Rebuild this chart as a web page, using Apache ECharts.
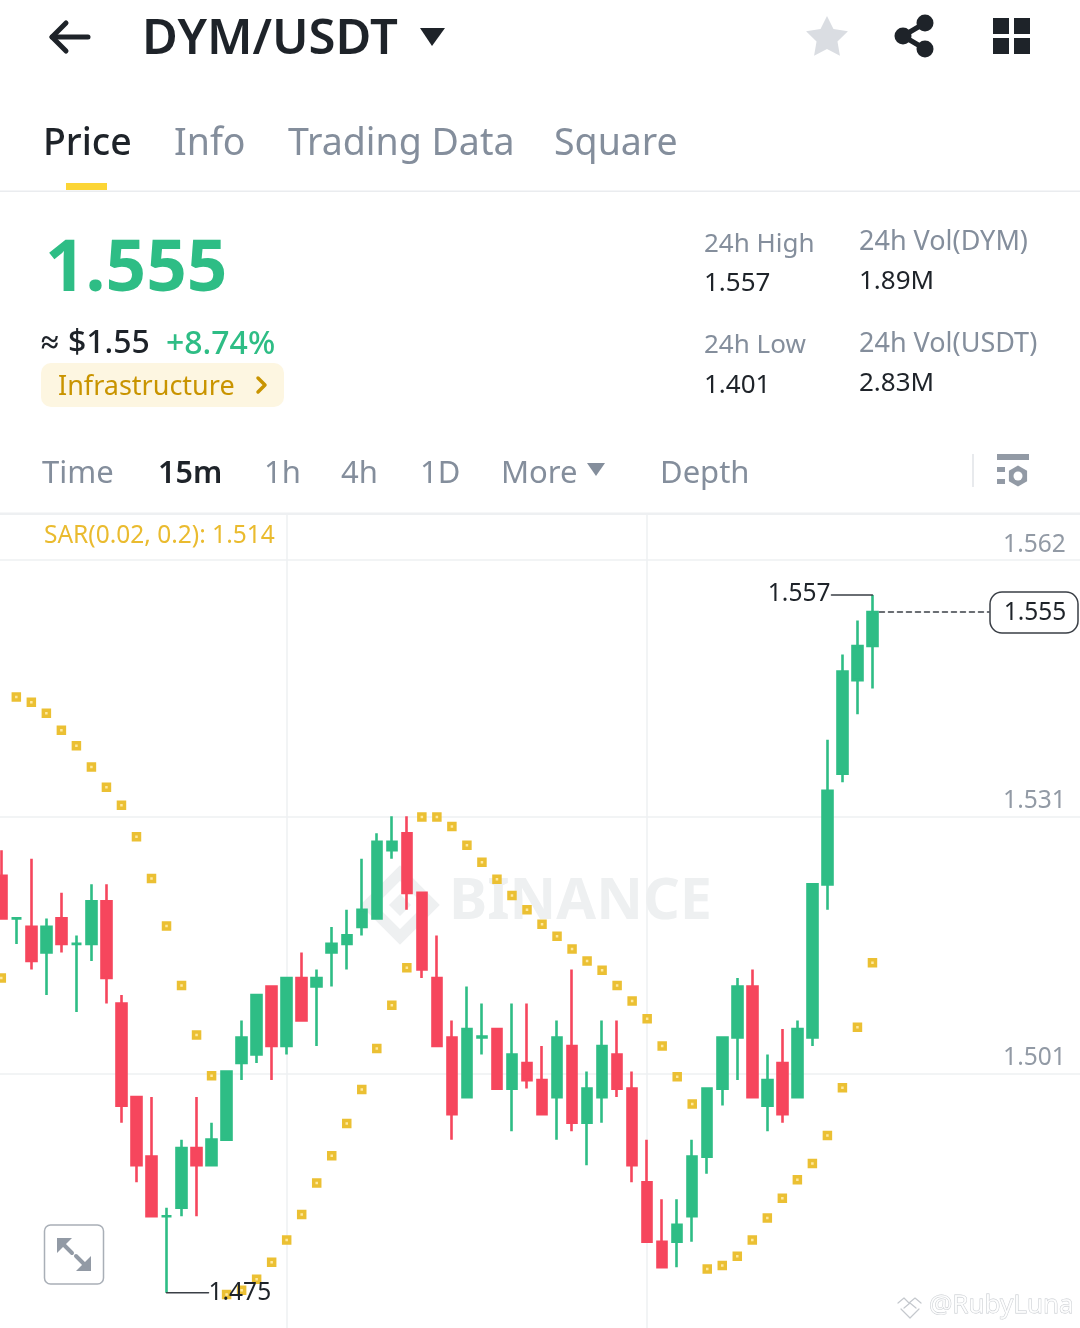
<!DOCTYPE html>
<html>
<head>
<meta charset="utf-8">
<title>DYM/USDT</title>
<script src="https://cdn.jsdelivr.net/npm/echarts@6/dist/echarts.min.js"></script>
<style>
html, body { margin: 0; padding: 0; background: #fff; }
#main { width: 1080px; height: 1328px; }
</style>
</head>
<body>
<div id="main"></div>
<script type="application/javascript">

// one candle per 15 minutes, oldest first
var opens = [1.524, 1.519, 1.518, 1.515, 1.519, 1.516, 1.516, 1.521, 1.509, 1.498,
    1.491, 1.484, 1.485, 1.492, 1.490, 1.493, 1.502, 1.503, 1.511, 1.504,
    1.512, 1.511, 1.515, 1.516, 1.518, 1.519, 1.527, 1.529, 1.522, 1.512,
    1.505, 1.498, 1.505, 1.506, 1.499, 1.502, 1.500, 1.498, 1.504, 1.495,
    1.498, 1.503, 1.499, 1.488, 1.481, 1.481, 1.484, 1.491, 1.499, 1.505,
    1.511, 1.497, 1.502, 1.498, 1.505, 1.523, 1.536, 1.547, 1.551];
var closes = [1.519, 1.519, 1.514, 1.518, 1.516, 1.516, 1.521, 1.512, 1.497, 1.490,
    1.484, 1.484, 1.492, 1.490, 1.493, 1.501, 1.505, 1.510, 1.504, 1.512,
    1.507, 1.512, 1.516, 1.517, 1.520, 1.528, 1.528, 1.522, 1.513, 1.504,
    1.496, 1.506, 1.5051, 1.499, 1.503, 1.500, 1.496, 1.505, 1.495, 1.499,
    1.504, 1.499, 1.490, 1.481, 1.478, 1.483, 1.491, 1.499, 1.505, 1.511,
    1.498, 1.500, 1.496, 1.506, 1.523, 1.534, 1.548, 1.551, 1.555];
var lows = [1.519, 1.516, 1.513, 1.510, 1.515, 1.508, 1.514, 1.509, 1.495, 1.488,
    1.484, 1.475, 1.484, 1.484, 1.490, 1.493, 1.500, 1.502, 1.500, 1.503,
    1.507, 1.504, 1.511, 1.513, 1.517, 1.519, 1.526, 1.520, 1.512, 1.504,
    1.493, 1.498, 1.503, 1.499, 1.494, 1.499, 1.496, 1.493, 1.494, 1.490,
    1.495, 1.498, 1.488, 1.481, 1.478, 1.478, 1.481, 1.489, 1.497, 1.500,
    1.498, 1.494, 1.495, 1.498, 1.504, 1.520, 1.535, 1.543, 1.546];
var highs = [1.527, 1.519, 1.526, 1.519, 1.522, 1.517, 1.523, 1.523, 1.510, 1.498,
    1.498, 1.485, 1.493, 1.498, 1.495, 1.501, 1.507, 1.510, 1.511, 1.512,
    1.515, 1.513, 1.518, 1.520, 1.526, 1.529, 1.531, 1.531, 1.522, 1.517,
    1.507, 1.511, 1.509, 1.506, 1.509, 1.509, 1.504, 1.507, 1.513, 1.501,
    1.507, 1.507, 1.501, 1.493, 1.486, 1.486, 1.493, 1.499, 1.505, 1.512,
    1.513, 1.503, 1.506, 1.507, 1.523, 1.540, 1.550, 1.554, 1.557];
var sar = [1.5120, 1.5450, 1.5444, 1.5431, 1.5411, 1.5393, 1.5368, 1.5344, 1.5323, 1.5286,
    1.5237, 1.5181, 1.5111, 1.5053, 1.5005, 1.4748, 1.4753, 1.4766, 1.4786, 1.4812,
    1.4842, 1.4879, 1.4911, 1.4949, 1.4989, 1.5037, 1.5088, 1.5132, 1.5309, 1.5309,
    1.5298, 1.5276, 1.5256, 1.5236, 1.5217, 1.5200, 1.5183, 1.5169, 1.5154, 1.5140,
    1.5129, 1.5111, 1.5093, 1.5072, 1.5040, 1.5004, 1.4972, 1.4778, 1.4782, 1.4793,
    1.4812, 1.4838, 1.4861, 1.4883, 1.4902, 1.4935, 1.4991, 1.5062, 1.5138];

var tickValues = [1.4707, 1.5008, 1.5310, 1.5611];
var tickLabels = ['1.470', '1.501', '1.531', '1.562'];
var gridColumns = [20, 44];   // vertical lines, as category numbers
var lastPrice = 1.555;
var highPrice = 1.557;
var lowPrice = 1.475;

var tabs = ['Price', 'Info', 'Trading Data', 'Square'];
var intervals = ['Time', '15m', '1h', '4h', '1D', 'More', 'Depth'];

var GREEN = '#2EBD85', RED = '#F6465D', DARK = '#1E2329', GREY = '#848E9C', LINE = '#EEF0F2';
var FONT = '"Noto Sans"';

// first category is an empty slot just left of the window, last ones are the empty space on the right
var categories = [];
for (var i = 0; i < 74; i++) {
    categories.push(String(i));
}
var candleData = [['-', '-', '-', '-']];
var sarData = ['-'];
for (var j = 0; j < opens.length; j++) {
    candleData.push([opens[j], closes[j], lows[j], highs[j]]);
    sarData.push(sar[j]);
}

var myChart = echarts.init(document.getElementById('main'));
myChart.setOption({
    animation: false,
    backgroundColor: '#fff',
    grid: { left: -13.72, right: -2.74, top: 515, height: 814, outerBoundsMode: 'none' },
    xAxis: {
        type: 'category',
        data: categories,
        boundaryGap: false,
        axisLine: { show: false },
        axisTick: { show: false },
        axisLabel: { show: false },
        splitLine: {
            show: true,
            interval: function (index) { return gridColumns.indexOf(index) >= 0; },
            lineStyle: { color: LINE, width: 1.5 }
        }
    },
    yAxis: {
        type: 'value',
        position: 'right',
        min: 1.47075,
        max: 1.5664,
        axisLine: { show: false },
        axisTick: { show: false, customValues: tickValues },
        axisLabel: {
            inside: true,
            margin: 17,
            customValues: tickValues,
            verticalAlign: 'bottom',
            padding: [0, 0, 3, 0],
            color: '#929AA5',
            fontFamily: FONT,
            fontSize: 24.5,
            formatter: function (value) {
                return tickLabels[tickValues.indexOf(value)];
            }
        },
        splitLine: { show: true, lineStyle: { color: LINE, width: 1.5 } }
    },
    series: [{
        type: 'candlestick',
        data: candleData,
        barWidth: 10,
        itemStyle: {
            color: GREEN,
            color0: RED,
            borderColor: GREEN,
            borderColor0: RED,
            borderWidth: 2.6
        }
    }, {
        type: 'scatter',
        data: sarData,
        symbol: 'rect',
        symbolSize: 6,
        z: 5,
        itemStyle: { color: '#FFE9A0', borderColor: '#EBC033', borderWidth: 3.5, opacity: 1 }
    }]
});

function txt(x, y, text, size, fill, weight, align, family) {
    return {
        type: 'text', z: 100, silent: true,
        style: {
            x: x, y: y + 4, text: text, fill: fill,
            font: (weight || 400) + ' ' + size + 'px ' + (family || FONT),
            textAlign: align || 'left', textVerticalAlign: 'middle'
        }
    };
}
function box(x, y, w, h, fill, r, stroke, lineWidth) {
    return {
        type: 'rect', z: 99, silent: true,
        shape: { x: x, y: y, width: w, height: h, r: r || 0 },
        style: { fill: fill, stroke: stroke || null, lineWidth: lineWidth || 0 }
    };
}
function poly(points, fill) {
    return { type: 'polygon', z: 99, silent: true, shape: { points: points }, style: { fill: fill } };
}
function stroke(points, color, width, dash) {
    return {
        type: 'polyline', z: 99, silent: true, shape: { points: points },
        style: { stroke: color, lineWidth: width, fill: null, lineDash: dash || null, lineCap: 'round', lineJoin: 'round' }
    };
}
function dot(cx, cy, r, fill) {
    return { type: 'circle', z: 100, silent: true, shape: { cx: cx, cy: cy, r: r }, style: { fill: fill } };
}

var gfx = [];

// header
gfx.push(stroke([[88, 37], [52, 37]], DARK, 5));
gfx.push(stroke([[66, 23], [52, 37], [66, 51]], DARK, 5));
gfx.push(txt(142, 36, 'DYM/USDT', 49, DARK, 600));
gfx.push(poly([[420, 28], [445, 28], [432, 46]], DARK));

var starPts = [];
for (var s = 0; s < 10; s++) {
    var rad = s % 2 ? 11 : 22;
    var ang = -Math.PI / 2 + s * Math.PI / 5;
    starPts.push([827 + rad * Math.cos(ang), 38 + rad * Math.sin(ang)]);
}
gfx.push(poly(starPts, '#DADDE2'));
gfx.push(stroke([[925, 23], [903, 36], [925, 49]], DARK, 5));
gfx.push(dot(925, 23, 8.5, DARK), dot(903, 36, 8.5, DARK), dot(925, 49, 8.5, DARK));
gfx.push(box(993, 18, 16, 16, DARK), box(1014, 18, 16, 16, DARK), box(993, 38, 16, 16, DARK), box(1014, 38, 16, 16, DARK));

// tabs
var tabX = [43, 174, 288, 554];
for (var t = 0; t < tabs.length; t++) {
    gfx.push(txt(tabX[t], 140, tabs[t], 37.5, t === 0 ? DARK : GREY, t === 0 ? 500 : 400));
}
gfx.push(box(66, 183, 41, 7, '#FCD535'));
gfx.push(box(0, 190.5, 1080, 1.5, '#EAECEF'));

// price block
gfx.push(txt(45, 267, '1.555', 71, GREEN, 700));
gfx.push(txt(41, 340, '≈', 32, DARK, 700));
gfx.push(txt(68, 340, '$1.55', 32, DARK, 500));
gfx.push(txt(166, 341, '+8.74%', 32, GREEN, 500));
gfx.push(box(41, 363, 243, 44, '#FDF6E1', 10));
gfx.push(txt(58, 383, 'Infrastructure', 27, '#C99400', 400));
gfx.push(stroke([[258, 378], [265, 385], [258, 392]], '#C99400', 3.5));

// 24h stats
gfx.push(txt(704, 241, '24h High', 26, GREY));
gfx.push(txt(704, 280, '1.557', 26, DARK));
gfx.push(txt(859, 238, '24h Vol(DYM)', 27, GREY));
gfx.push(txt(859, 278, '1.89M', 26, DARK));
gfx.push(txt(704, 342, '24h Low', 26, GREY));
gfx.push(txt(704, 382, '1.401', 26, DARK));
gfx.push(txt(859, 340, '24h Vol(USDT)', 27, GREY));
gfx.push(txt(859, 380, '2.83M', 26, DARK));

// interval bar
var intervalX = [42, 158, 264, 341, 420, 501, 660];
for (var k = 0; k < intervals.length; k++) {
    gfx.push(txt(intervalX[k], 470, intervals[k], k === 1 ? 30.5 : 31, k === 1 ? DARK : GREY, k === 1 ? 600 : 400));
}
gfx.push(poly([[587, 463], [605, 463], [596, 476]], GREY));
gfx.push(box(972, 454, 2, 33, '#E8EAED'));
gfx.push(box(997, 454, 32, 6, '#929AA5'), box(997, 467, 8, 5, '#929AA5'), box(997, 479, 8, 5, '#929AA5'));
var hexPts = [];
for (var h = 0; h < 6; h++) {
    hexPts.push([1018 + 10.5 * Math.cos(-Math.PI / 2 + h * Math.PI / 3), 476 + 10.5 * Math.sin(-Math.PI / 2 + h * Math.PI / 3)]);
}
gfx.push(poly(hexPts, '#929AA5'), dot(1018, 476, 4.5, '#fff'));
gfx.push(box(0, 512.5, 1080, 2.5, '#EEF0F2'));
gfx.push(txt(44, 532, 'SAR(0.02, 0.2): 1.514', 24.5, '#EABB2F'));

// watermark behind the candles
gfx.push({
    type: 'text', z: 0, silent: true,
    style: { x: 449, y: 903, text: 'BINANCE', fill: '#EEF0F1', font: '700 57.5px ' + FONT, textVerticalAlign: 'middle' }
});
gfx.push({
    type: 'polygon', z: 0, silent: true,
    shape: { points: [[400, 873], [432, 905], [400, 937], [368, 905]] },
    style: { fill: null, stroke: '#EEF0F1', lineWidth: 11 }
});
gfx.push({
    type: 'polygon', z: 0, silent: true,
    shape: { points: [[400, 894], [411, 905], [400, 916], [389, 905]] },
    style: { fill: '#EEF0F1' }
});

// expand button
gfx.push(box(44.5, 1225, 59, 59, '#fff', 6, '#A9AFB7', 1.5));
gfx.push(poly([[57, 1238], [72, 1238], [57, 1253]], '#929AA5'), poly([[91, 1271], [76, 1271], [91, 1256]], '#929AA5'));
gfx.push(stroke([[62, 1243], [72, 1253]], '#929AA5', 4), stroke([[76, 1256], [86, 1266]], '#929AA5', 4));

// high, low and last price callouts are placed through the chart's own scales
var highPt = myChart.convertToPixel({ xAxisIndex: 0, yAxisIndex: 0 }, [59, highPrice]);
var lowPt = myChart.convertToPixel({ xAxisIndex: 0, yAxisIndex: 0 }, [12, lowPrice]);
var lastPt = myChart.convertToPixel({ xAxisIndex: 0, yAxisIndex: 0 }, [59, lastPrice]);

gfx.push(stroke([[highPt[0], highPt[1]], [highPt[0] - 41, highPt[1]]], '#3A3F46', 1.5));
gfx.push(txt(highPt[0] - 42, highPt[1] - 5, '1.557', 24.5, DARK, 400, 'right'));
gfx.push(stroke([[lowPt[0], lowPt[1]], [lowPt[0] + 42, lowPt[1]]], '#3A3F46', 1.5));
gfx.push(txt(lowPt[0] + 42, lowPt[1] - 4, '1.475', 24.5, DARK));
gfx.push(stroke([[lastPt[0] + 7, lastPt[1]], [989, lastPt[1]]], '#3A3F46', 1.5, [5, 4]));
gfx.push(box(990, lastPt[1] - 20, 88, 41, '#fff', 12, '#3A3F46', 1.5));
gfx.push(txt(1035, lastPt[1] - 3, '1.555', 24.5, DARK, 400, 'center'));

// repost watermark on top of everything
gfx.push({
    type: 'text', z: 110, silent: true,
    style: { x: 929, y: 1306, text: '@RubyLuna', fill: 'rgba(255,255,255,0.75)', stroke: '#C4C8CD', lineWidth: 0.8, font: '400 26px ' + FONT, textVerticalAlign: 'middle' }
});
gfx.push(stroke([[898, 1303], [904, 1298], [909, 1303], [915, 1298], [921, 1303]], '#C4C8CD', 1.2));
gfx.push(stroke([[904, 1308], [910, 1303], [916, 1308]], '#C4C8CD', 1.2));
gfx.push(stroke([[901, 1309], [910, 1318], [919, 1309]], '#C4C8CD', 1.2));

myChart.setOption({ graphic: gfx });
</script>
</body>
</html>
